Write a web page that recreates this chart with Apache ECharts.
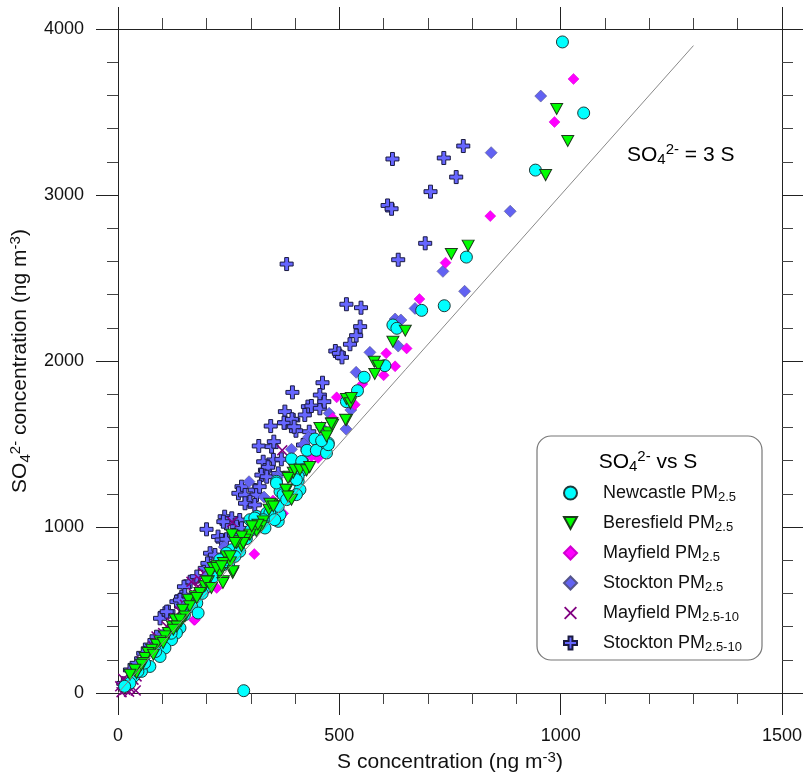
<!DOCTYPE html>
<html><head><meta charset="utf-8">
<script src="https://cdn.jsdelivr.net/npm/echarts/dist/echarts.min.js"></script>
<style>html,body{margin:0;padding:0;background:#fff}#c{width:803px;height:776px}</style>
</head><body><div id="c"></div>
<script>
const FONT = 'Arial, "Liberation Sans", sans-serif';

// Tick values
const xTickLabels = [0, 500, 1000, 1500];
const yTickLabels = [0, 1000, 2000, 3000, 4000];

// Reference line SO4 = 3 S
const refLine = [[0, 0], [1300, 3900]];

// Series data: [S (ng m-3), SO4 (ng m-3)]
const newcastle = [
  [1004,3922],[1052,3494],[943,3150],[787,2626],[737,2333],[686,2305],[621,2217],[630,2197],
  [603,1972],[556,1902],[541,1821],[516,1755],[284,14],
  [445,1530],[463,1506],[475,1506],[427,1462],[448,1462],[471,1446],[392,1410],[418,1389],
  [358,1275],[366,1214],[407,1275],[411,1225],[313,1064],[324,1044],[336,1084],[362,1034],
  [366,1074],[257,863],[275,853],[245,843],[264,823],[230,803],[238,773],[178,542],[166,522],
  [181,482],[140,392],[132,361],[121,321],[106,271],[95,220],[72,160],[53,130],[35,100],[27,60],
  [475,1496],[460,1520],[415,1395],[418,1345],[407,1305],[403,1285],[358,1265],[373,1195],
  [388,1184],[403,1195],[362,1124],[343,1084],[354,1044],[328,1044],[320,1004],[332,994],
  [298,1044],[309,1054],[381,1165],[200,640],[215,700],[150,470],[190,600],[250,780],[290,930],
  [300,980],[120,360],[85,250],[60,180],[45,130],[15,40]
];
const beresfield = [
  [991,3518],[1016,3325],[966,3120],[791,2695],[753,2645],[649,2182],[621,2116],[579,1996],
  [588,1972],[580,1922],[516,1771],[525,1745],[516,1645],[483,1625],[475,1570],[456,1596],
  [485,1616],[527,1777],[514,1646],[471,1546],[482,1622],[388,1303],[396,1327],[381,1225],
  [392,1165],[347,1135],[341,1104],[328,1034],[324,1004],[313,974],[298,954],[287,924],
  [266,914],[279,884],[245,823],[254,787],[238,783],[224,763],[230,723],[215,753],[208,723],
  [204,673],[196,643],[238,673],[259,723],[174,582],[159,562],[162,522],[146,502],[151,461],
  [142,431],[129,442],[123,401],[114,361],[106,341],[95,311],[87,291],[76,261],[68,241],
  [61,211],[57,181],[42,120],[384,1295],[399,1345],[411,1345],[426,1341],[433,1361],[379,1225],
  [384,1184],[343,1140],[351,1124],[316,1014],[302,1004],[279,943],[283,904],[268,904],
  [257,954],[264,904],[253,823],[260,733],[237,663],[223,753],[234,763],[200,672],[211,633],
  [185,602],[178,572],[140,442],[133,401],[125,381],[102,301],[80,231],[53,170],[38,140],[27,110]
];
const mayfield25 = [
  [1029,3699],[986,3440],[841,2873],[740,2592],[681,2373],[652,2076],[626,1968],[606,2046],
  [600,1914],[494,1781],[552,1861],[308,837],[172,440],[373,1082],[452,1416],[437,1426],
  [485,1657],[535,1737],[223,633],[174,442],[420,1380],[400,1330],[350,1160],[330,1080],
  [280,900],[250,800],[200,620],[130,400],[90,280],[50,150],[20,60]
];
const stockton25 = [
  [955,3596],[843,3255],[886,2902],[734,2540],[783,2420],[671,2317],[626,2253],[639,2247],
  [633,2090],[569,2052],[538,1932],[526,1705],[515,1590],[477,1685],[392,1468],[296,1273],
  [430,1540],[460,1600],[360,1300],[330,1180],[240,880],[200,700],[150,520],[100,350],
  [60,210],[420,1500]
];
const mayfield2510 = [
  [16,20],[5,40],[27,30],[20,70],[35,80],[42,100],[31,120],[50,130],[57,160],[53,190],
  [65,211],[72,241],[80,281],[91,301],[87,341],[102,361],[110,401],[121,422],[129,452],
  [140,492],[151,532],[162,562],[170,602],[181,642],[185,683],[193,723],[371,1462],[258,1030],
  [8,5],[25,8],[40,15],[12,85],[166,670]
];
const stockton2510 = [
  [620,3217],[736,3223],[780,3295],[764,3108],[706,3020],[609,2937],[618,2917],[694,2709],
  [633,2610],[381,2584],[516,2342],[549,2321],[547,2207],[538,2153],[524,2101],[491,2060],
  [499,2046],[506,2022],[462,1869],[394,1811],[456,1795],[429,1725],[437,1729],[422,1675],
  [456,1715],[466,1755],[377,1695],[377,1628],[396,1645],[402,1580],[432,1574],[418,1494],
  [345,1608],[375,1628],[393,1649],[398,1604],[318,1488],[347,1484],[352,1514],[351,1404],
  [369,1408],[328,1393],[332,1343],[339,1360],[324,1313],[336,1303],[362,1323],[279,1243],
  [272,1203],[287,1193],[309,1223],[313,1193],[320,1243],[298,1152],[287,1143],[309,1133],
  [241,1062],[257,1052],[245,1022],[238,1032],[275,1042],[268,1002],[279,992],[200,986],
  [226,942],[234,922],[245,926],[208,842],[219,831],[163,670],[149,640],[144,580],[132,550],
  [114,490],[106,480],[95,450],[72,289],[57,239],[42,179],[27,139],[262,952],[196,751],
  [202,781],[178,701],[151,590],[140,560],[110,490],[87,339],[12,58]
];

const legendNames = ['Newcastle PM2.5','Beresfield PM2.5','Mayfield PM2.5','Stockton PM2.5','Mayfield PM2.5-10','Stockton PM2.5-10'];

const rich = {
  t: {fontSize: 18, fontFamily: FONT, color: '#111', lineHeight: 20},
  L: {fontSize: 18, fontFamily: FONT, color: '#111', lineHeight: 20, padding: [0, 0, 0, 21]},
  s: {fontSize: 13, fontFamily: FONT, color: '#111', padding: [9, 0, 0, 0]},
  p: {fontSize: 13, fontFamily: FONT, color: '#111', padding: [0, 0, 9, 0]},
  T: {fontSize: 21, fontFamily: FONT, color: '#111', lineHeight: 24},
  S: {fontSize: 15, fontFamily: FONT, color: '#111', padding: [10, 0, 0, 0]},
  P: {fontSize: 15, fontFamily: FONT, color: '#111', padding: [0, 0, 10, 0]}
};

const PLUS = 'path://M3.5,0 H6.5 V3.5 H10 V6.5 H6.5 V10 H3.5 V6.5 H0 V3.5 H3.5 Z';
const XMARK = 'path://M0,1 L1,0 L5,4 L9,0 L10,1 L6,5 L10,9 L9,10 L5,6 L1,10 L0,9 L4,5 Z';
const TRIDOWN = 'path://M0,0 L12,0 L6,11 Z';
const DIAMOND = 'path://M5,0 L10,5 L5,10 L0,5 Z';

function scatter(name, data, symbol, size, color, border, bw) {
  return {
    type: 'scatter', name: name, data: data, symbol: symbol, symbolSize: size,
    itemStyle: {color: color, borderColor: border, borderWidth: bw, opacity: 1},
    emphasis: {disabled: true}
  };
}

function axisCommon(showLabel) {
  return {
    type: 'value',
    axisLine: {show: true, onZero: false, lineStyle: {color: '#222', width: 1}},
    axisTick: {show: true, length: 22, lineStyle: {color: '#222', width: 1}},
    minorTick: {show: true, splitNumber: 5, length: 11, lineStyle: {color: '#444', width: 1}},
    splitLine: {show: false},
    minorSplitLine: {show: false},
    axisLabel: {show: showLabel, fontSize: 18, fontFamily: FONT, color: '#111', margin: 34,
      formatter: function (v) { return String(v); }}
  };
}

const xMin = xTickLabels[0], xMax = xTickLabels[xTickLabels.length - 1], xInt = xTickLabels[1] - xTickLabels[0];
const yMin = yTickLabels[0], yMax = yTickLabels[yTickLabels.length - 1], yInt = yTickLabels[1] - yTickLabels[0];

const chart = echarts.init(document.getElementById('c'), null, {renderer: 'canvas'});
chart.setOption({
  animation: false,
  backgroundColor: '#fff',
  grid: {left: 118, right: 21, top: 29, bottom: 83, containLabel: false, outerBoundsMode: 'none'},
  xAxis: [
    Object.assign(axisCommon(true), {position: 'bottom', min: xMin, max: xMax, interval: xInt,
      name: '{T|S concentration (ng m}{P|-3}{T|)}', nameLocation: 'middle', nameGap: 56,
      nameTextStyle: {rich: rich}}),
    Object.assign(axisCommon(false), {position: 'top', min: xMin, max: xMax, interval: xInt})
  ],
  yAxis: [
    Object.assign(axisCommon(true), {position: 'left', min: yMin, max: yMax, interval: yInt,
      name: '{T|SO}{S|4}{P|2-}{T| concentration (ng m}{P|-3}{T|)}', nameLocation: 'middle', nameGap: 65,
      nameTextStyle: {rich: rich}}),
    Object.assign(axisCommon(false), {position: 'right', min: yMin, max: yMax, interval: yInt})
  ],
  legend: {
    data: legendNames, orient: 'vertical', left: 563, top: 484,
    itemWidth: 13, itemHeight: 13, itemGap: 10, padding: 0,
    selectedMode: false,
    formatter: function (name) {
      const i = name.indexOf('PM');
      return '{L|' + name.slice(0, i + 2) + '}{s|' + name.slice(i + 2) + '}';
    },
    textStyle: {rich: rich}
  },
  graphic: [
    {type: 'rect', shape: {x: 537, y: 436, width: 225, height: 224, r: 14},
      style: {fill: 'none', stroke: '#777', lineWidth: 1.2}, z: 10},
    {type: 'text', x: 648, y: 462, z: 10,
      style: {text: '{T|SO}{S|4}{P|2-}{T| vs S}', rich: rich, align: 'center', verticalAlign: 'middle'}},
    {type: 'text', x: 627, y: 155, z: 10,
      style: {text: '{T|SO}{S|4}{P|2-}{T| = 3 S}', rich: rich, align: 'left', verticalAlign: 'middle'}}
  ],
  series: [
    {type: 'line', data: refLine, symbol: 'none', silent: true,
      lineStyle: {color: '#888', width: 1}},
    scatter('Stockton PM2.5-10', stockton2510, PLUS, 13, '#6666FF', '#1a1a40', 1),
    scatter('Mayfield PM2.5-10', mayfield2510, XMARK, 11, '#800080', '#800080', 0),
    scatter('Stockton PM2.5', stockton25, DIAMOND, 12, '#6262F2', '#55558a', 0.6),
    scatter('Mayfield PM2.5', mayfield25, DIAMOND, 11, '#FF00FF', '#d000d0', 0.5),
    scatter('Newcastle PM2.5', newcastle, 'circle', 12, '#00FFFF', '#1d3a3a', 1),
    scatter('Beresfield PM2.5', beresfield, TRIDOWN, [12, 11], '#00FF00', '#1d3a1d', 1)
  ]
});
</script>
</body></html>
